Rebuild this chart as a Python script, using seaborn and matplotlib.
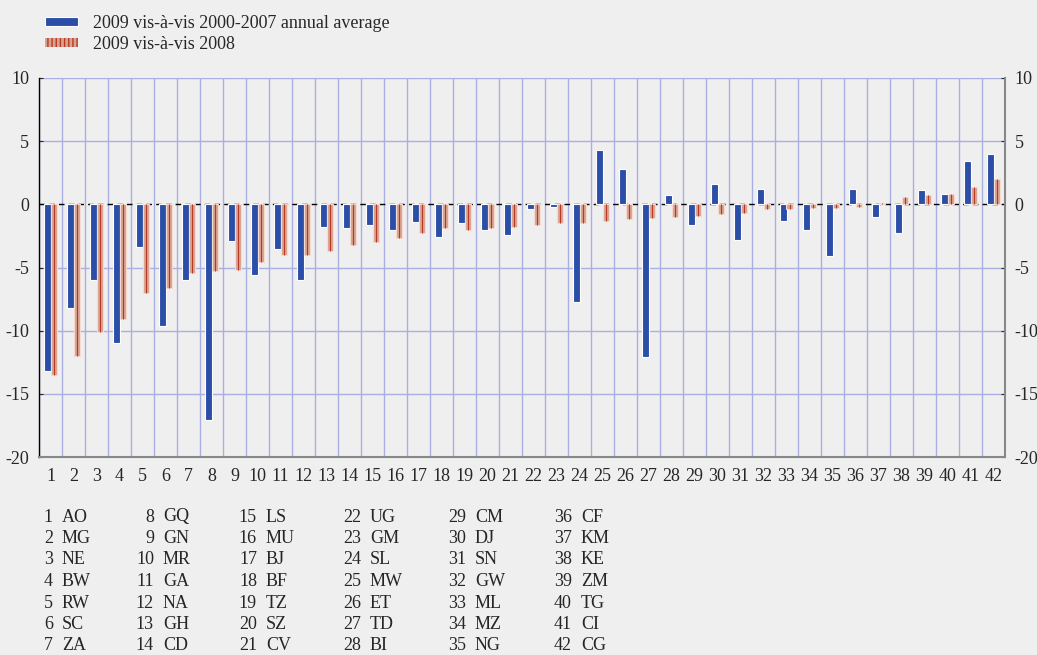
import numpy as np
import pandas as pd
import matplotlib.pyplot as plt
from matplotlib.patches import Patch
from matplotlib.ticker import FixedLocator
import seaborn as sns

# country codes, numbered 1..42 on the x axis
codes = ['AO', 'MG', 'NE', 'BW', 'RW', 'SC', 'ZA', 'GQ', 'GN', 'MR', 'GA', 'NA', 'GH', 'CD',
         'LS', 'MU', 'BJ', 'BF', 'TZ', 'SZ', 'CV', 'UG', 'GM', 'SL', 'MW', 'ET', 'TD', 'BI',
         'CM', 'DJ', 'SN', 'GW', 'ML', 'MZ', 'NG', 'CF', 'KM', 'KE', 'ZM', 'TG', 'CI', 'CG']
nums = [str(i) for i in range(1, 43)]

vs_avg = [-13.2, -8.2, -6.0, -11.0, -3.4, -9.6, -6.0, -17.1, -2.9, -5.6, -3.5, -6.0, -1.8, -1.9,
          -1.6, -2.0, -1.4, -2.6, -1.5, -2.0, -2.4, -0.4, -0.2, -7.7, 4.3, 2.8, -12.1, 0.7,
          -1.6, 1.6, -2.8, 1.2, -1.3, -2.0, -4.1, 1.2, -1.0, -2.3, 1.1, 0.8, 3.4, 4.0]
vs_2008 = [-13.5, -12.0, -10.1, -9.1, -7.0, -6.6, -5.4, -5.3, -5.2, -4.6, -4.0, -4.0, -3.7, -3.2,
           -3.0, -2.7, -2.3, -1.9, -2.0, -1.9, -1.8, -1.6, -1.5, -1.5, -1.3, -1.2, -1.1, -1.0,
           -0.9, -0.8, -0.7, -0.4, -0.4, -0.3, -0.3, -0.2, 0.1, 0.6, 0.7, 0.8, 1.4, 2.0]

series_names = ['2009 vis-à-vis 2000-2007 annual average', '2009 vis-à-vis 2008']

df = pd.DataFrame({
    'num': nums * 2,
    'value': vs_avg + vs_2008,
    'series': [series_names[0]] * 42 + [series_names[1]] * 42,
})

bg = '#efefef'
blue = '#2b4ea8'
orange = '#d9a28f'
red = '#b53a26'
grid = '#a9aee3'

sns.set_style('white')
plt.rcParams['font.family'] = ['Liberation Serif', 'DejaVu Serif']
plt.rcParams['axes.unicode_minus'] = False
plt.rcParams['hatch.linewidth'] = 1.0
fs = 13

fig = plt.figure(figsize=(10.37, 6.55), dpi=100, facecolor=bg)
ax = fig.add_axes([39 / 1037, 1 - 457 / 655, 966 / 1037, 379 / 655])
ax.set_facecolor(bg)

sns.barplot(data=df, x='num', y='value', hue='series', order=nums, hue_order=series_names,
            palette=[blue, orange], saturation=1, width=0.54, errorbar=None,
            edgecolor='white', linewidth=0.8, legend=False, ax=ax)

# second series: pale fill with a thin red stripe down the middle of each bar
for p in ax.containers[1]:
    p.set_edgecolor('#f5dcd3')
    xc = p.get_x() + p.get_width() / 2
    ax.vlines(xc, p.get_y(), p.get_y() + p.get_height(), color=red, lw=0.8, zorder=2)

ax.set_xlim(-0.5, 41.5)
ax.set_ylim(-20, 10)
ax.set_yticks(range(-20, 11, 5))
ax.set_xlabel('')
ax.set_ylabel('')

ax.xaxis.set_minor_locator(FixedLocator(np.arange(-0.5, 42, 1)))
ax.set_axisbelow(True)
ax.grid(which='minor', axis='x', color=grid, lw=1)
ax.grid(which='major', axis='y', color=grid, lw=1)
ax.grid(which='major', axis='x', visible=False)
ax.yaxis.get_major_ticks()[4].gridline.set_visible(False)
ax.axhline(0, color='black', lw=1, dashes=(4, 3), zorder=0.8)

ax.tick_params(axis='x', which='major', length=0, pad=8, labelsize=fs)
ax.tick_params(axis='x', which='minor', length=5, width=1.2, color='black', direction='out')
ax.tick_params(axis='y', labelleft=True, labelright=True, left=True, right=True,
               length=3, direction='in', pad=7, labelsize=fs)

ax.spines['top'].set_visible(False)
ax.spines['left'].set_color('black')
ax.spines['left'].set_linewidth(1)
ax.spines['right'].set_color('#888888')
ax.spines['right'].set_linewidth(1.5)
ax.spines['bottom'].set_color('#888888')
ax.spines['bottom'].set_linewidth(1.5)

handles = [Patch(facecolor=blue, edgecolor='white', lw=0.8),
           Patch(facecolor=orange, edgecolor=red, hatch='||||', lw=0)]
fig.legend(handles, series_names, loc='upper left', bbox_to_anchor=(45 / 1037, 1 - 15 / 655),
           frameon=False, fontsize=fs, handlelength=1.85, handleheight=0.4,
           labelspacing=0.2, handletextpad=0.8, borderpad=0, borderaxespad=0)

# numbered key of country codes below the chart
col_x = [53, 154, 257, 361, 466, 572]
for i, code in enumerate(codes):
    col, row = divmod(i, 7)
    y = 1 - (517 + 21.5 * row) / 655
    fig.text(col_x[col] / 1037, y, str(i + 1), ha='right', va='center', fontsize=fs)
    fig.text((col_x[col] + 9) / 1037, y, code, ha='left', va='center', fontsize=fs)

fig.savefig('out.png', dpi=100, facecolor=bg)
